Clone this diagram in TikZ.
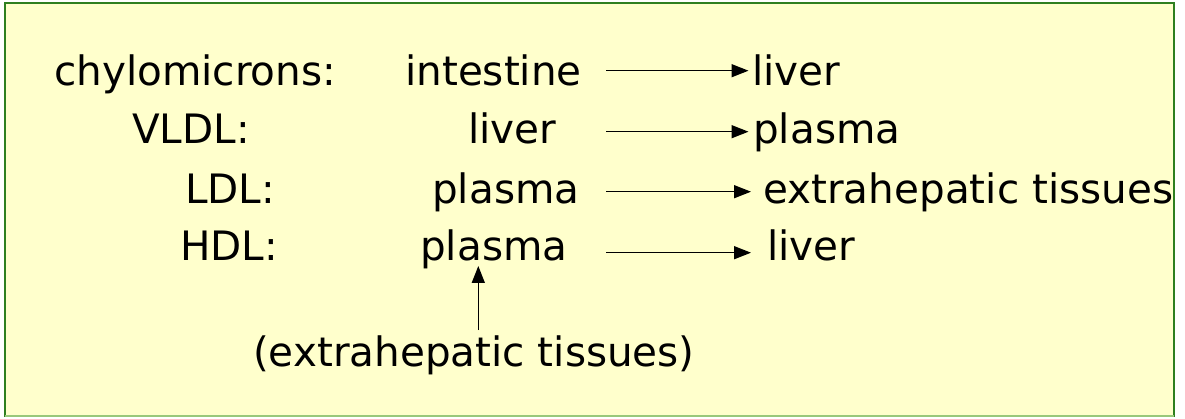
\documentclass[tikz,border=0pt]{standalone}
\usepackage{fontspec}
\setmainfont{DejaVu Sans}
\usetikzlibrary{arrows.meta}
\definecolor{boxfill}{HTML}{FFFFCC}
\definecolor{boxline}{HTML}{2F7F1F}
\definecolor{boxlinelight}{HTML}{99C87A}
\tikzset{
  lbl/.style={anchor=base west, inner sep=0pt, font=\fontsize{40.5}{48}\selectfont},
  flow/.style={draw=black, line width=1.5pt, arrows={-Triangle[length=17pt,width=13pt]}}
}
\begin{document}
\begin{tikzpicture}[x=1pt,y=-1pt]
\useasboundingbox (0,0) rectangle (1185,419);
\fill[white] (0,0) rectangle (1185,419);
\filldraw[fill=boxfill, draw=boxline, line width=1.3pt] (5,3) rectangle (1174,416);
\draw[boxlinelight, line width=1.3pt] (5,416) -- (1174,416);

\node[lbl] (chylo) at (54,86) {chylomicrons:};
\node[lbl] (intest) at (405,86) {intestine};
\node[lbl] (liverA) at (752,86) {liver};

\node[lbl] (vldl) at (132,144) {VLDL:};
\node[lbl] (liverB) at (468,144) {liver};
\node[lbl] (plasmaB) at (753,144) {plasma};

\node[lbl] (ldl) at (185,204) {LDL:};
\node[lbl] (plasmaC) at (432,204) {plasma};
\node[lbl] (extraC) at (763,204) {extrahepatic tissues};

\node[lbl] (hdl) at (180,261) {HDL:};
\node[lbl] (plasmaD) at (420,261) {plasma};
\node[lbl] (liverD) at (767,261) {liver};

\node[lbl] (extraE) at (253,366) {(extrahepatic tissues)};

\coordinate (a1s) at (606,70.7);
\coordinate (a1e) at (748.5,70.7);
\coordinate (a2s) at (606,131.7);
\coordinate (a2e) at (748.5,131.7);
\coordinate (a3s) at (606,191.7);
\coordinate (a3e) at (751,191.7);
\coordinate (a4s) at (606,252.7);
\coordinate (a4e) at (751,252.7);
\coordinate (vs) at (478.3,330);
\coordinate (ve) at (478.3,266);

\draw[flow] (a1s) -- (a1e);
\draw[flow] (a2s) -- (a2e);
\draw[flow] (a3s) -- (a3e);
\draw[flow] (a4s) -- (a4e);
\draw[flow] (vs) -- (ve);
\end{tikzpicture}
\end{document}
